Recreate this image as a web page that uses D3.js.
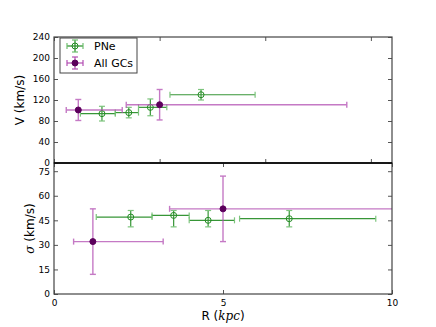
<!DOCTYPE html>
<html>
<head>
<meta charset="utf-8">
<script src="https://cdn.jsdelivr.net/npm/d3@7"></script>
<style>
  body { margin: 0; background: #fff; }
  text { font-family: "DejaVu Sans", sans-serif; }
</style>
</head>
<body>
<div id="chart"></div>
<script>
// PNe
var pneR = [2.27, 3.54, 4.56, 6.96];
var pneRErrLo = [1.02, 0.64, 0.56, 1.47];
var pneRErrHi = [0.63, 0.46, 0.78, 2.56];
var pneV = [94, 96, 106, 130];
var pneVErr = [14, 10, 16, 10];
var pneSig = [47, 48, 45, 46];
var pneSigErrLo = [6, 7, 4, 5];
var pneSigErrHi = [4, 3, 6, 5];

// All GCs
var gcR = [1.15, 5.0];
var gcRErrLo = [0.57, 1.58];
var gcRErrHi = [2.08, 8.86];
var gcV = [101, 111];
var gcVErr = [20, 29];
var gcSig = [32, 52];
var gcSigErr = [20, 20];

var vTicks = [0, 40, 80, 120, 160, 200, 240];
var sigTicks = [0, 15, 30, 45, 60, 75];
var rTicksTop = [0, 5, 10, 15];
var rTicksBot = [0, 5, 10];

var W = 436, H = 327;
var left = 54, right = 392;
var topY = 37, midY = 163, botY = 294;

var green = "#228b22", greenLight = "#6fbf6f";
var purple = "#b24db2", purpleDark = "#5c005c";

var svg = d3.select("#chart").append("svg")
    .attr("width", W).attr("height", H);

var xTop = d3.scaleLinear().domain([0, 16]).range([left, right]);
var xBot = d3.scaleLinear().domain([0, 10]).range([left, right]);
var yTop = d3.scaleLinear().domain([0, 240]).range([midY, topY]);
var yBot = d3.scaleLinear().domain([0, 80]).range([botY, midY]);

var defs = svg.append("defs");
defs.append("clipPath").attr("id", "clipTop").append("rect")
    .attr("x", left).attr("y", topY).attr("width", right - left).attr("height", midY - topY);
defs.append("clipPath").attr("id", "clipBot").append("rect")
    .attr("x", left).attr("y", midY).attr("width", right - left).attr("height", botY - midY);

function rows(R, rl, rh, Y, yl, yh) {
  return R.map(function(r, i){
    return {r: r, rl: r - rl[i], rh: r + rh[i], y: Y[i], yl: Y[i] - yl[i], yh: Y[i] + yh[i]};
  });
}

function errorbars(g, data, x, y, lineCol, capCol, op, sw) {
  var cap = 3;
  data.forEach(function(d){
    var e = g.append("g").attr("opacity", op);
    e.append("line").attr("x1", x(d.rl)).attr("x2", x(d.rh)).attr("y1", y(d.y)).attr("y2", y(d.y))
      .attr("stroke", lineCol).attr("stroke-width", sw);
    e.append("line").attr("x1", x(d.r)).attr("x2", x(d.r)).attr("y1", y(d.yl)).attr("y2", y(d.yh))
      .attr("stroke", lineCol).attr("stroke-width", sw);
    [d.rl, d.rh].forEach(function(v){
      e.append("line").attr("x1", x(v)).attr("x2", x(v)).attr("y1", y(d.y) - cap).attr("y2", y(d.y) + cap)
        .attr("stroke", capCol).attr("stroke-width", sw);
    });
    [d.yl, d.yh].forEach(function(v){
      e.append("line").attr("x1", x(d.r) - cap).attr("x2", x(d.r) + cap).attr("y1", y(v)).attr("y2", y(v))
        .attr("stroke", capCol).attr("stroke-width", sw);
    });
  });
}

function panel(x, y, clip, pne, gc) {
  var g = svg.append("g").attr("clip-path", "url(#" + clip + ")");
  errorbars(g, pne, x, y, green, greenLight, 0.9, 1.2);
  g.selectAll(".pn").data(pne).enter().append("circle")
    .attr("cx", function(d){ return x(d.r); })
    .attr("cy", function(d){ return y(d.y); })
    .attr("r", 3).attr("fill", "none").attr("stroke", green).attr("stroke-width", 1);
  errorbars(g, gc, x, y, purple, purple, 0.75, 1.4);
  g.selectAll(".gc").data(gc).enter().append("circle")
    .attr("cx", function(d){ return x(d.r); })
    .attr("cy", function(d){ return y(d.y); })
    .attr("r", 3).attr("fill", purpleDark).attr("stroke", purpleDark);
}

panel(xTop, yTop, "clipTop",
  rows(pneR, pneRErrLo, pneRErrHi, pneV, pneVErr, pneVErr),
  rows(gcR, gcRErrLo, gcRErrHi, gcV, gcVErr, gcVErr));
panel(xBot, yBot, "clipBot",
  rows(pneR, pneRErrLo, pneRErrHi, pneSig, pneSigErrLo, pneSigErrHi),
  rows(gcR, gcRErrLo, gcRErrHi, gcSig, gcSigErr, gcSigErr));

// axes (ticks inward, matplotlib classic look)
var tk = 4;
function axes(x, y, yT, xT, y0, y1, showX) {
  var ax = svg.append("g");
  ax.append("g").attr("transform", "translate(" + left + ",0)")
    .call(d3.axisLeft(y).tickValues(yT).tickSize(-tk).tickPadding(4))
    .call(function(s){ s.select(".domain").remove(); });
  ax.append("g").attr("transform", "translate(" + right + ",0)")
    .call(d3.axisRight(y).tickValues(yT).tickSize(-tk).tickFormat(""))
    .call(function(s){ s.select(".domain").remove(); });
  ax.append("g").attr("transform", "translate(0," + y1 + ")")
    .call(d3.axisTop(x).tickValues(xT).tickSize(-tk).tickFormat(""))
    .call(function(s){ s.select(".domain").remove(); });
  ax.append("g").attr("transform", "translate(0," + y0 + ")")
    .call(d3.axisBottom(x).tickValues(xT).tickSize(-tk).tickPadding(6)
      .tickFormat(showX ? d3.format("d") : ""))
    .call(function(s){ s.select(".domain").remove(); });
  ax.selectAll(".tick line").attr("stroke", "#555");
  ax.selectAll(".tick text").attr("font-size", 9).attr("fill", "#000")
    .attr("font-family", "DejaVu Sans, sans-serif");
  ax.append("rect").attr("x", left).attr("y", y1).attr("width", right - left).attr("height", y0 - y1)
    .attr("fill", "none").attr("stroke", "#444").attr("stroke-width", 1.2);
}
axes(xTop, yTop, vTicks, rTicksTop, midY, topY, false);
axes(xBot, yBot, sigTicks, rTicksBot, botY, midY, true);
svg.append("line").attr("x1", left).attr("x2", right).attr("y1", midY).attr("y2", midY)
  .attr("stroke", "#000").attr("stroke-width", 1.3);

// axis labels
svg.append("text").attr("transform", "translate(24," + ((topY + midY) / 2) + ") rotate(-90)")
  .attr("text-anchor", "middle").attr("font-size", 12).text("V (km/s)");
svg.append("text").attr("transform", "translate(34," + ((midY + botY) / 2) + ") rotate(-90)")
  .attr("text-anchor", "middle").attr("font-size", 12)
  .call(function(t){
    t.append("tspan").attr("font-style", "italic").attr("font-family", "DejaVu Serif, serif").text("σ");
    t.append("tspan").text(" (km/s)");
  });
var xl = svg.append("text").attr("x", (left + right) / 2).attr("y", 320)
  .attr("text-anchor", "middle").attr("font-size", 12);
xl.append("tspan").text("R (");
xl.append("tspan").attr("font-style", "italic").attr("font-family", "DejaVu Serif, serif").text("kpc");
xl.append("tspan").text(")");

// legend
var lg = svg.append("g");
lg.append("rect").attr("x", 60).attr("y", 38).attr("width", 77).attr("height", 35)
  .attr("fill", "#fff").attr("stroke", "#444").attr("stroke-width", 1);
var items = [
  {label: "PNe", col: green, cap: greenLight, fill: "none", y: 46},
  {label: "All GCs", col: purple, cap: purple, fill: purpleDark, y: 63}
];
items.forEach(function(it){
  var cx = 75;
  lg.append("line").attr("x1", cx - 8).attr("x2", cx + 8).attr("y1", it.y).attr("y2", it.y)
    .attr("stroke", it.col).attr("stroke-width", 1.2);
  lg.append("line").attr("x1", cx).attr("x2", cx).attr("y1", it.y - 6).attr("y2", it.y + 6)
    .attr("stroke", it.col).attr("stroke-width", 1.2);
  [-8, 8].forEach(function(o){
    lg.append("line").attr("x1", cx + o).attr("x2", cx + o).attr("y1", it.y - 3).attr("y2", it.y + 3)
      .attr("stroke", it.cap).attr("stroke-width", 1.2);
  });
  [-6, 6].forEach(function(o){
    lg.append("line").attr("x1", cx - 3).attr("x2", cx + 3).attr("y1", it.y + o).attr("y2", it.y + o)
      .attr("stroke", it.cap).attr("stroke-width", 1.2);
  });
  lg.append("circle").attr("cx", cx).attr("cy", it.y).attr("r", 3)
    .attr("fill", it.fill).attr("stroke", it.fill === "none" ? it.col : it.fill);
  lg.append("text").attr("x", 94).attr("y", it.y + 4).attr("font-size", 11).text(it.label);
});
</script>
</body>
</html>
